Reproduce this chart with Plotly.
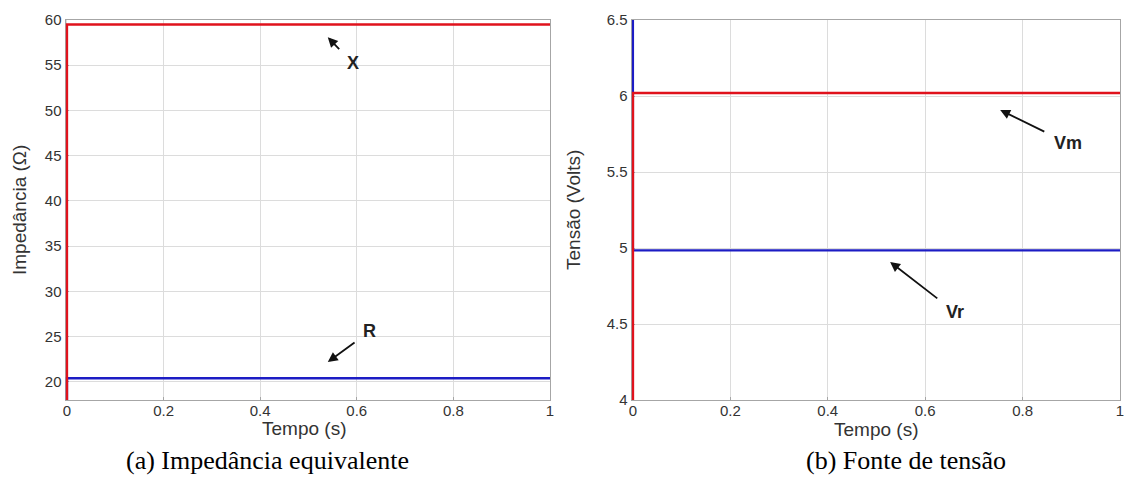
import plotly.graph_objects as go

# ---- data ----
t = [0, 0, 1]
X_imp = [0, 59.5, 59.5]      # reactance X (Ohm)
R_imp = [0, 20.4, 20.4]      # resistance R (Ohm)
Vm = [0, 6.02, 6.02]         # Vm (Volts)
Vr = [10, 4.985, 4.985]      # Vr (Volts)

x_ticks = [0, 0.2, 0.4, 0.6, 0.8, 1]
x_ticklabels = ["0", "0.2", "0.4", "0.6", "0.8", "1"]
yL_ticks = [20, 25, 30, 35, 40, 45, 50, 55, 60]
yR_ticks = [4, 4.5, 5, 5.5, 6, 6.5]
yR_ticklabels = ["4", "4.5", "5", "5.5", "6", "6.5"]

RED = "#e0121c"
BLUE = "#1c1cc4"

fig = go.Figure()
fig.add_trace(go.Scatter(x=t, y=R_imp, mode="lines", line=dict(color=BLUE, width=2.4), xaxis="x", yaxis="y", showlegend=False))
fig.add_trace(go.Scatter(x=t, y=X_imp, mode="lines", line=dict(color=RED, width=2.4), xaxis="x", yaxis="y", showlegend=False))
fig.add_trace(go.Scatter(x=t, y=Vr, mode="lines", line=dict(color=BLUE, width=2.2), xaxis="x2", yaxis="y2", showlegend=False))
fig.add_trace(go.Scatter(x=t, y=Vm, mode="lines", line=dict(color=RED, width=2.4), xaxis="x2", yaxis="y2", showlegend=False))

W, H = 1135, 483
yd = [(H - 400) / H, (H - 20) / H]
tickfont = dict(family="Liberation Sans, Arial, sans-serif", size=15, color="#333333")
common = dict(showgrid=True, gridcolor="#dcdcdc", gridwidth=1, showline=True, linecolor="#a6a6a6",
              linewidth=1, mirror=True, ticks="inside", ticklen=3, tickcolor="#a6a6a6",
              tickfont=tickfont, zeroline=False, automargin=False, layer="below traces")

fig.update_layout(
    width=W, height=H,
    margin=dict(l=0, r=0, t=0, b=0),
    paper_bgcolor="white", plot_bgcolor="white",
    xaxis=dict(domain=[65.5 / W, 550 / W], range=[-0.003, 1], tickvals=x_ticks, ticktext=x_ticklabels,
               anchor="y", ticklabelstandoff=-3, **common),
    yaxis=dict(domain=yd, range=[18, 60], tickvals=yL_ticks, anchor="x", **common),
    xaxis2=dict(domain=[631.5 / W, 1120 / W], range=[-0.003, 1], tickvals=x_ticks, ticktext=x_ticklabels,
                anchor="y2", ticklabelstandoff=-3, **common),
    yaxis2=dict(domain=yd, range=[4, 6.5], tickvals=yR_ticks, ticktext=yR_ticklabels, anchor="x2", **common),
)

axfont = dict(family="Liberation Sans, Arial, sans-serif", size=19, color="#333333")
capfont = dict(family="Liberation Serif, Times New Roman, serif", size=26, color="black")
lblfont = dict(family="Liberation Sans, Arial, sans-serif", size=18, color="#222222")

def txt(text, px, py, font, angle=0):
    return dict(text=text, x=px / W, y=1 - py / H, xref="paper", yref="paper", showarrow=False,
                xanchor="center", yanchor="middle", textangle=angle, font=font)

ann = []
# axis titles
ann.append(txt("Tempo (s)", 304, 428, axfont))
ann.append(txt("Tempo (s)", 876, 429, axfont))
ann.append(txt("Impedância (Ω)", 20, 210, axfont, -90))
ann.append(txt("Tensão (Volts)", 574, 210, axfont, -90))
# captions
ann.append(txt("(a) Impedância equivalente", 267, 460, capfont))
ann.append(txt("(b) Fonte de tensão", 906, 460, capfont))

# curve labels with arrows
def lab(text, xr, yr, x, y, tx, ty):
    return dict(text="<b>%s</b>" % text, x=x, y=y, ax=tx, ay=ty, xref=xr, yref=yr, axref=xr, ayref=yr,
                showarrow=True, arrowhead=2, arrowsize=1.1, arrowwidth=1.8, arrowcolor="#111111",
                standoff=0, startstandoff=9, font=lblfont, xanchor="center", yanchor="middle")
ann.append(lab("X", "x", "y", 0.54, 58.1, 0.592, 55.2))
ann.append(lab("R", "x", "y", 0.54, 22.2, 0.627, 25.6))
ann.append(lab("Vm", "x2", "y2", 0.754, 5.908, 0.893, 5.69))
ann.append(lab("Vr", "x2", "y2", 0.528, 4.908, 0.661, 4.579))
fig.update_layout(annotations=ann)

fig.write_html("out.html", config={"displayModeBar": False},
               post_script="document.body.style.margin='0';")
